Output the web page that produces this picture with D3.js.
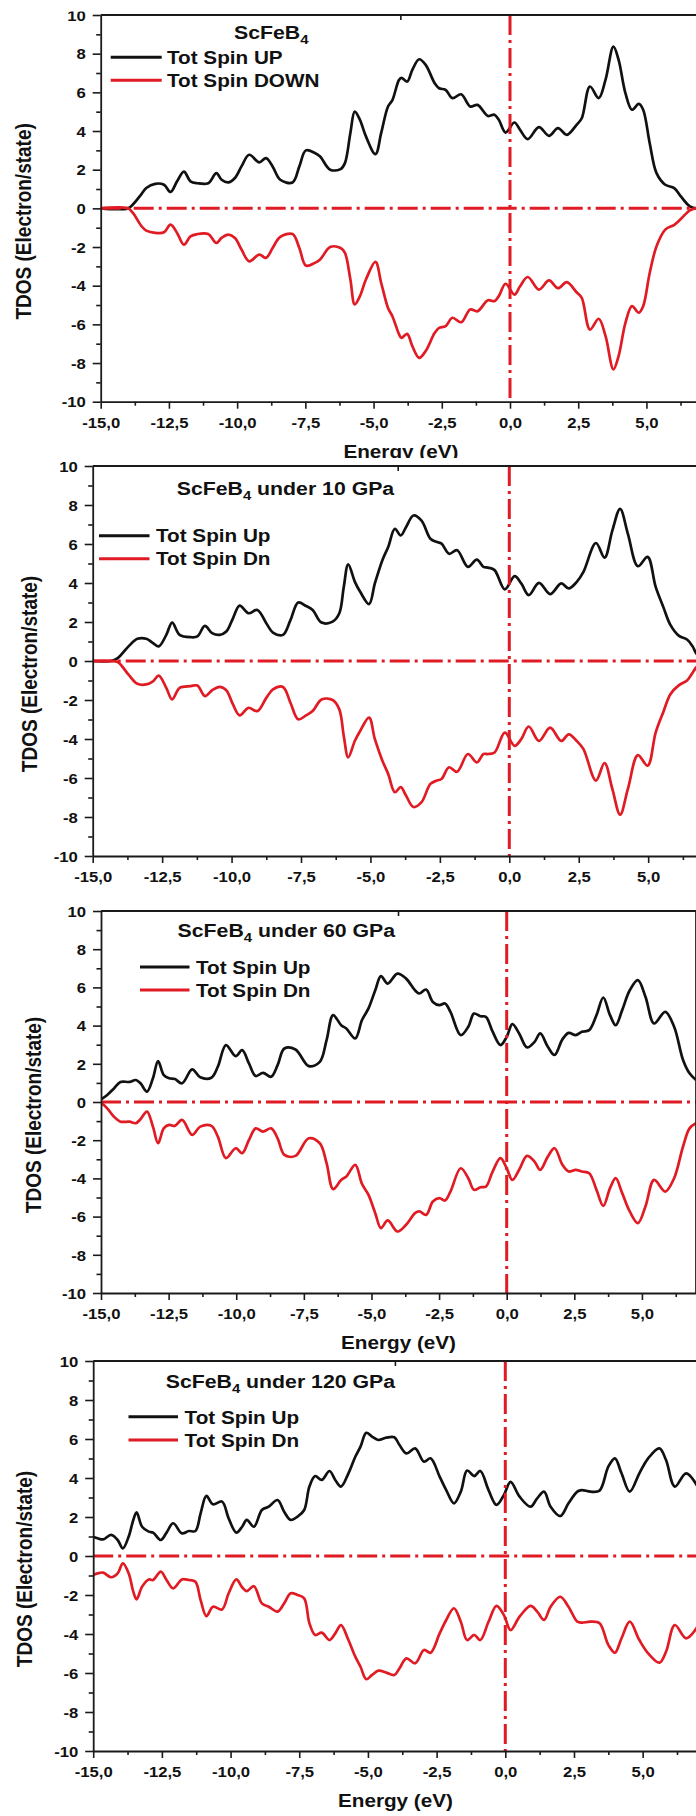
<!DOCTYPE html>
<html>
<head>
<meta charset="utf-8">
<script src="https://cdn.jsdelivr.net/npm/d3@7"></script>
<style>
  html, body { margin: 0; padding: 0; background: #fff; }
  svg { display: block; }
</style>
</head>
<body>
<svg id="chart" width="696" height="1816"></svg>
<script>
// ---- Total DOS of ScFeB4 at 0, 10, 60 and 120 GPa (energies in eV, DOS in electron/state) ----

// 0 GPa
const energy0 = [-15.0, -14.0, -13.82, -13.5, -13.33, -13.0, -12.68, -12.44, -12.2, -11.95, -11.71, -11.46, -11.06, -10.76, -10.57, -10.33, -10.08, -9.84, -9.56, -9.19, -8.94, -8.7, -8.42, -7.97, -7.72, -7.48, -7.15, -6.96, -6.59, -6.21, -6.05, -5.85, -5.69, -5.5, -5.28, -4.93, -4.72, -4.47, -4.31, -4.07, -3.98, -3.77, -3.58, -3.33, -3.09, -2.76, -2.6, -2.36, -2.11, -1.79, -1.46, -1.19, -0.81, -0.57, -0.41, -0.16, 0.16, 0.37, 0.65, 1.06, 1.43, 1.76, 2.08, 2.44, 2.63, 2.93, 3.25, 3.5, 3.79, 3.98, 4.23, 4.47, 4.72, 4.88, 5.12, 5.37, 5.69, 6.02, 6.26, 6.59, 6.8, 7.0];
const spinUp0 = [0, 0, 0.2, 0.75, 1.05, 1.27, 1.22, 0.85, 1.4, 1.9, 1.4, 1.3, 1.3, 1.82, 1.48, 1.34, 1.57, 2.17, 2.77, 2.38, 2.6, 2.17, 1.48, 1.34, 2.17, 3.0, 2.86, 2.68, 2.0, 2.03, 2.34, 3.9, 5.0, 4.58, 3.72, 2.8, 3.9, 5.27, 5.6, 6.64, 6.75, 6.56, 7.16, 7.71, 7.42, 6.47, 6.21, 6.13, 5.7, 5.9, 5.27, 5.35, 4.78, 4.84, 4.58, 3.92, 4.44, 4.06, 3.58, 4.2, 3.75, 4.15, 3.8, 4.32, 4.66, 6.3, 5.7, 6.64, 8.36, 7.68, 5.96, 5.1, 5.4, 5.1, 3.37, 1.82, 1.22, 1.05, 0.62, 0.1, 0, 0];
const spinDn0 = [0, 0, -0.24, -0.93, -1.15, -1.27, -1.24, -0.84, -1.27, -1.88, -1.45, -1.33, -1.33, -1.79, -1.53, -1.36, -1.53, -2.13, -2.74, -2.39, -2.56, -2.05, -1.48, -1.33, -2.05, -2.96, -2.82, -2.65, -2.0, -2.05, -2.3, -3.68, -4.97, -4.54, -3.68, -2.77, -3.86, -5.15, -5.58, -6.5, -6.7, -6.49, -7.13, -7.73, -7.38, -6.44, -6.18, -6.09, -5.66, -5.89, -5.23, -5.32, -4.75, -4.8, -4.54, -3.9, -4.46, -4.03, -3.55, -4.2, -3.73, -4.13, -3.82, -4.34, -4.63, -6.27, -5.71, -6.6, -8.33, -7.64, -5.92, -5.06, -5.4, -5.06, -3.34, -1.96, -1.1, -0.85, -0.55, -0.1, 0, 0];

// 10 GPa
const energy10 = [-15.0, -14.35, -14.1, -13.71, -13.39, -13.07, -12.83, -12.62, -12.35, -12.14, -11.87, -11.47, -11.23, -10.96, -10.7, -10.43, -10.19, -9.95, -9.71, -9.39, -9.07, -8.75, -8.51, -8.15, -7.88, -7.6, -7.32, -7.08, -6.76, -6.36, -6.12, -5.96, -5.8, -5.56, -5.37, -5.05, -4.84, -4.57, -4.36, -4.12, -3.91, -3.72, -3.45, -3.16, -2.84, -2.6, -2.44, -2.17, -1.88, -1.49, -1.17, -0.93, -0.77, -0.53, -0.16, 0.19, 0.43, 0.7, 1.07, 1.47, 1.87, 2.14, 2.43, 2.67, 3.12, 3.43, 3.71, 3.99, 4.27, 4.63, 4.98, 5.27, 5.55, 5.8, 6.1, 6.4, 6.6, 6.75, 7.0];
const spinUp10 = [0, 0, 0.15, 0.75, 1.14, 1.14, 0.92, 0.75, 1.34, 1.97, 1.34, 1.22, 1.26, 1.8, 1.43, 1.34, 1.51, 2.19, 2.84, 2.45, 2.62, 1.94, 1.46, 1.34, 2.1, 3.0, 2.82, 2.62, 1.97, 2.02, 2.45, 3.8, 4.96, 4.06, 3.55, 2.92, 3.98, 5.17, 5.85, 6.78, 6.44, 6.86, 7.46, 7.2, 6.27, 6.1, 6.02, 5.5, 5.68, 4.83, 5.2, 4.83, 4.79, 4.66, 3.67, 4.35, 3.98, 3.38, 4.01, 3.43, 3.98, 3.72, 4.06, 4.57, 6.05, 5.3, 6.69, 7.8, 6.52, 4.86, 5.34, 3.8, 2.75, 1.85, 1.3, 1.1, 0.75, 0.35, 0.1];
const spinDn10 = [0, 0, -0.05, -0.7, -1.17, -1.2, -1.04, -0.75, -1.38, -1.97, -1.38, -1.29, -1.26, -1.8, -1.5, -1.33, -1.5, -2.23, -2.79, -2.4, -2.57, -1.89, -1.46, -1.33, -2.14, -2.99, -2.79, -2.57, -1.97, -2.0, -2.48, -3.84, -4.94, -4.09, -3.59, -2.9, -4.01, -5.11, -5.79, -6.73, -6.47, -6.9, -7.49, -7.24, -6.3, -6.13, -6.05, -5.45, -5.68, -4.77, -5.2, -4.77, -4.77, -4.69, -3.67, -4.35, -4.01, -3.36, -4.1, -3.42, -4.1, -3.76, -4.1, -4.52, -6.13, -5.23, -6.56, -7.88, -6.56, -4.83, -5.37, -3.67, -2.6, -1.7, -1.25, -1.0, -0.6, -0.3, -0.1];

// 60 GPa
const energy60 = [-15.0, -14.77, -14.52, -14.28, -13.95, -13.71, -13.54, -13.3, -13.08, -12.89, -12.68, -12.48, -12.27, -12.0, -11.63, -11.33, -10.92, -10.68, -10.38, -10.02, -9.78, -9.53, -9.28, -9.01, -8.71, -8.47, -8.22, -7.81, -7.32, -6.91, -6.66, -6.42, -6.12, -5.93, -5.6, -5.35, -5.11, -4.86, -4.65, -4.4, -4.04, -3.72, -3.39, -3.23, -2.98, -2.73, -2.49, -2.28, -2.08, -1.7, -1.42, -1.21, -0.97, -0.77, -0.52, -0.23, 0, 0.21, 0.46, 0.75, 1.03, 1.24, 1.52, 1.77, 2.06, 2.29, 2.55, 2.78, 3.05, 3.32, 3.57, 3.82, 4.03, 4.27, 4.55, 4.85, 5.13, 5.45, 5.86, 6.19, 6.52, 6.76, 7.0];
const spinUp60 = [0.14, 0.37, 0.71, 1.05, 1.05, 1.15, 0.98, 0.54, 1.24, 2.14, 1.41, 1.24, 1.2, 0.98, 1.71, 1.29, 1.27, 1.85, 2.98, 2.4, 2.72, 2.02, 1.36, 1.53, 1.32, 1.93, 2.8, 2.75, 1.88, 2.1, 3.24, 4.55, 4.02, 3.85, 3.33, 4.29, 4.9, 5.85, 6.59, 6.2, 6.72, 6.46, 5.85, 5.68, 5.89, 5.24, 5.07, 5.16, 4.72, 3.5, 3.94, 4.63, 4.49, 4.46, 3.68, 2.98, 3.41, 4.08, 3.59, 2.86, 3.15, 3.59, 2.89, 2.46, 3.28, 3.62, 3.5, 3.68, 3.76, 4.55, 5.47, 4.55, 4.02, 4.81, 5.85, 6.38, 5.51, 4.11, 4.72, 3.94, 2.2, 1.5, 1.15];
const spinDn60 = [-0.03, -0.33, -0.77, -1.03, -1.03, -1.11, -0.9, -0.5, -1.29, -2.16, -1.38, -1.2, -1.25, -0.94, -1.72, -1.29, -1.25, -1.81, -2.94, -2.42, -2.68, -1.99, -1.38, -1.55, -1.38, -1.9, -2.77, -2.82, -1.9, -2.16, -3.2, -4.56, -4.08, -3.9, -3.29, -4.29, -4.86, -5.82, -6.6, -6.2, -6.78, -6.43, -5.82, -5.73, -5.91, -5.21, -5.03, -5.16, -4.69, -3.47, -3.99, -4.6, -4.46, -4.43, -3.64, -2.94, -3.47, -4.08, -3.55, -2.82, -3.12, -3.55, -2.86, -2.42, -3.29, -3.64, -3.55, -3.64, -3.73, -4.6, -5.44, -4.51, -3.99, -4.77, -5.73, -6.34, -5.47, -4.08, -4.69, -3.99, -2.33, -1.38, -1.11];

// 120 GPa
const energy120 = [-15.0, -14.84, -14.64, -14.35, -14.11, -13.92, -13.71, -13.54, -13.42, -13.22, -12.98, -12.82, -12.54, -12.33, -12.09, -11.77, -11.52, -11.28, -11.09, -10.88, -10.64, -10.31, -10.07, -9.79, -9.58, -9.41, -9.15, -8.86, -8.61, -8.29, -8.05, -7.81, -7.56, -7.32, -7.13, -6.92, -6.68, -6.4, -6.19, -5.98, -5.71, -5.46, -5.27, -5.06, -4.85, -4.62, -4.33, -4.04, -3.85, -3.6, -3.28, -2.96, -2.72, -2.39, -2.15, -1.87, -1.62, -1.39, -1.13, -0.91, -0.61, -0.32, -0.05, 0.19, 0.52, 0.92, 1.16, 1.41, 1.65, 2.0, 2.3, 2.62, 2.78, 3.1, 3.43, 3.75, 3.99, 4.23, 4.53, 4.88, 5.2, 5.61, 5.85, 6.17, 6.58, 7.0];
const spinUp120 = [0.99, 0.91, 0.85, 1.08, 0.82, 0.39, 0.99, 1.85, 2.24, 1.5, 1.25, 1.2, 0.82, 1.2, 1.68, 1.16, 1.28, 1.28, 2.19, 3.08, 2.65, 2.79, 1.93, 1.2, 1.5, 1.85, 1.5, 2.36, 2.53, 2.87, 2.27, 1.85, 2.02, 2.36, 3.56, 4.1, 3.9, 4.36, 3.9, 3.56, 4.24, 5.09, 5.61, 6.32, 6.12, 5.95, 6.07, 6.09, 5.69, 5.26, 5.52, 4.84, 5.01, 4.07, 3.38, 2.7, 3.3, 4.38, 4.1, 4.36, 3.38, 2.62, 3.13, 3.8, 3.04, 2.53, 2.96, 3.3, 2.53, 2.05, 2.7, 3.3, 3.38, 3.3, 3.35, 4.58, 5.01, 4.24, 3.3, 4.24, 5.01, 5.52, 4.92, 3.56, 4.24, 3.56];
const spinDn120 = [-0.97, -0.89, -0.85, -1.09, -0.89, -0.38, -0.89, -1.83, -2.22, -1.57, -1.2, -1.23, -0.8, -1.23, -1.66, -1.2, -1.23, -1.32, -2.26, -3.08, -2.6, -2.74, -1.91, -1.2, -1.6, -1.8, -1.55, -2.43, -2.6, -2.85, -2.43, -1.91, -2.0, -2.17, -3.45, -4.05, -3.93, -4.31, -3.97, -3.54, -4.31, -5.16, -5.68, -6.32, -6.1, -5.88, -5.98, -6.1, -5.76, -5.25, -5.5, -4.82, -4.96, -3.97, -3.28, -2.68, -3.37, -4.31, -4.05, -4.31, -3.37, -2.56, -3.03, -3.8, -3.11, -2.56, -2.85, -3.28, -2.6, -2.09, -2.6, -3.37, -3.42, -3.37, -3.45, -4.56, -4.96, -4.22, -3.37, -4.31, -4.99, -5.47, -4.91, -3.54, -4.22, -3.62];

// Axis ticks and labels
const energyDomain = [-15, 7];
const dosDomain = [-10, 10];
const xTicks = [-15, -12.5, -10, -7.5, -5, -2.5, 0, 2.5, 5];
const xMinorTicks = [-13.75, -11.25, -8.75, -6.25, -3.75, -1.25, 1.25, 3.75, 6.25];
const yTicks = [-10, -8, -6, -4, -2, 0, 2, 4, 6, 8, 10];
const yMinorTicks = [-9, -7, -5, -3, -1, 1, 3, 5, 7, 9];
const topFrameMarks = [-4];
const titleSuffix = ["", " under 10 GPa", " under 60 GPa", " under 120 GPa"];
const upLabels = ["Tot Spin UP", "Tot Spin Up", "Tot Spin Up", "Tot Spin Up"];
const downLabels = ["Tot Spin DOWN", "Tot Spin Dn", "Tot Spin Dn", "Tot Spin Dn"];
const xAxisTitle = "Energy (eV)";
const yAxisTitle = "TDOS (Electron/state)";

const series = [
  { e: energy0,   up: spinUp0,   dn: spinDn0 },
  { e: energy10,  up: spinUp10,  dn: spinDn10 },
  { e: energy60,  up: spinUp60,  dn: spinDn60 },
  { e: energy120, up: spinUp120, dn: spinDn120 }
];

// ---- Layout of the four stacked panels ----
const layout = [
  { left: 100.7, zero: 510.0, top: 15,  bottom: 401.7, bgTop: 0,
    titleX: 234, titleY: 38.5, legX1: 110.7, legX2: 161.7, legUpY: 57.3, legDnY: 80.2,
    legTextX: 167, legTextY1: 63.6, legTextY2: 86.6, yTitleX: 23 },
  { left: 92.7, zero: 509.3, top: 466, bottom: 856, bgTop: 458,
    titleX: 176.7, titleY: 494.5, legX1: 99, legX2: 149.5, legUpY: 535.7, legDnY: 558.8,
    legTextX: 156, legTextY1: 542, legTextY2: 565, yTitleX: 29 },
  { left: 101, zero: 506.7, top: 911, bottom: 1293, bgTop: 893,
    titleX: 177.6, titleY: 937, legX1: 140, legX2: 189.5, legUpY: 967, legDnY: 990,
    legTextX: 196, legTextY1: 973.5, legTextY2: 996.5, yTitleX: 33 },
  { left: 93.2, zero: 505.3, top: 1361, bottom: 1751, bgTop: 1354,
    titleX: 165.7, titleY: 1388.3, legX1: 128.5, legX2: 178, legUpY: 1416.7, legDnY: 1440,
    legTextX: 184.6, legTextY1: 1423.5, legTextY2: 1446.5, yTitleX: 24 }
];

const FONT = "'Liberation Sans', Arial, Helvetica, sans-serif";
const SX = 1.15;            // horizontal stretch of the lettering
const RED = "#e01b24";
const BLACK = "#111";
const AXIS = "#1a1a1a";

const svg = d3.select("#chart");
const fmtX = d => d.toFixed(1).replace(".", ",");
const fmtY = d => String(d);

// text placed through a group so it can be stretched horizontally
function label(parent, x, y, str, size, anchor, rotate) {
  const g = parent.append("g")
    .attr("transform", `translate(${x},${y}) scale(${SX},1)` + (rotate ? ` rotate(${rotate})` : ""));
  return g.append("text")
    .attr("x", 0).attr("y", 0)
    .attr("font-family", FONT).attr("font-weight", "bold")
    .attr("font-size", size).attr("fill", "#111")
    .attr("text-anchor", anchor || "start")
    .text(str);
}

series.forEach((s, i) => {
  const L = layout[i];
  const unit = (L.zero - L.left) / 15;
  const x = d3.scaleLinear().domain(energyDomain).range([L.left, L.zero + unit * energyDomain[1]]);
  const y = d3.scaleLinear().domain(dosDomain).range([L.bottom, L.top]);
  const g = svg.append("g").attr("class", "panel");

  g.append("rect").attr("x", 0).attr("y", L.bgTop).attr("width", 696).attr("height", 1816 - L.bgTop).attr("fill", "#fff");

  const clipId = "clip" + i;
  g.append("clipPath").attr("id", clipId).append("rect")
    .attr("x", x(energyDomain[0])).attr("y", L.top - 2)
    .attr("width", x(energyDomain[1]) - x(energyDomain[0])).attr("height", L.bottom - L.top + 4);

  const plot = g.append("g").attr("clip-path", `url(#${clipId})`);
  const line = d3.line().x(d => x(d[0])).y(d => y(d[1])).curve(d3.curveCatmullRom.alpha(0.5));
  const upPts = s.e.map((e, k) => [e, s.up[k]]);
  const dnPts = s.e.map((e, k) => [e, s.dn[k]]);

  plot.append("path").attr("d", line(upPts)).attr("fill", "none")
    .attr("stroke", BLACK).attr("stroke-width", 2.7).attr("stroke-linejoin", "round");
  plot.append("path").attr("d", line(dnPts)).attr("fill", "none")
    .attr("stroke", RED).attr("stroke-width", 2.7).attr("stroke-linejoin", "round");

  // Fermi level and zero line
  plot.append("line")
    .attr("x1", x(energyDomain[0])).attr("x2", x(energyDomain[1]))
    .attr("y1", y(0)).attr("y2", y(0))
    .attr("stroke", RED).attr("stroke-width", 3).attr("stroke-dasharray", "20,5,3,5");
  plot.append("line")
    .attr("x1", x(0)).attr("x2", x(0))
    .attr("y1", y(dosDomain[1])).attr("y2", y(dosDomain[0]))
    .attr("stroke", RED).attr("stroke-width", 3).attr("stroke-dasharray", "20,5,3,5");

  // frame: top and right
  g.append("line").attr("x1", x(energyDomain[0])).attr("x2", x(energyDomain[1]))
    .attr("y1", y(dosDomain[1])).attr("y2", y(dosDomain[1]))
    .attr("stroke", AXIS).attr("stroke-width", 1.8);
  g.append("line").attr("x1", x(energyDomain[1])).attr("x2", x(energyDomain[1]))
    .attr("y1", y(dosDomain[1])).attr("y2", y(dosDomain[0]))
    .attr("stroke", AXIS).attr("stroke-width", 1.8);
  g.selectAll(".topmark").data(topFrameMarks).enter().append("line")
    .attr("x1", d => x(d)).attr("x2", d => x(d))
    .attr("y1", y(dosDomain[1])).attr("y2", y(dosDomain[1]) + 5)
    .attr("stroke", AXIS).attr("stroke-width", 1.6);

  // bottom axis
  const xAx = g.append("g").attr("transform", `translate(0,${L.bottom})`)
    .call(d3.axisBottom(x).tickValues(xTicks).tickFormat(fmtX).tickSize(7).tickSizeOuter(0));
  g.append("g").attr("transform", `translate(0,${L.bottom})`)
    .call(d3.axisBottom(x).tickValues(xMinorTicks).tickFormat(() => "").tickSize(4).tickSizeOuter(0))
    .call(a => a.select(".domain").remove());

  // left axis
  const yAx = g.append("g").attr("transform", `translate(${L.left},0)`)
    .call(d3.axisLeft(y).tickValues(yTicks).tickFormat(fmtY).tickSize(8).tickSizeOuter(0));
  g.append("g").attr("transform", `translate(${L.left},0)`)
    .call(d3.axisLeft(y).tickValues(yMinorTicks).tickFormat(() => "").tickSize(4.5).tickSizeOuter(0))
    .call(a => a.select(".domain").remove());

  g.selectAll(".domain").attr("stroke", AXIS).attr("stroke-width", 1.8);
  g.selectAll(".tick line").attr("stroke", AXIS).attr("stroke-width", 1.6);

  xAx.selectAll("text")
    .attr("font-family", FONT).attr("font-weight", "bold").attr("font-size", 14.5).attr("fill", "#111")
    .attr("y", 16).attr("transform", `scale(${SX},1)`);
  yAx.selectAll("text")
    .attr("font-family", FONT).attr("font-weight", "bold").attr("font-size", 14.5).attr("fill", "#111")
    .attr("x", -15 / SX).attr("dy", "0.36em").attr("transform", `scale(${SX},1)`);

  // axis titles
  label(g, (x(energyDomain[0]) + x(energyDomain[1])) / 2, L.bottom + 56, xAxisTitle, 18, "middle");
  label(g, L.yTitleX, (L.top + L.bottom) / 2 + 13, yAxisTitle, 19, "middle", -90)
    .attr("dominant-baseline", "central");

  // panel title with subscript
  const t = label(g, L.titleX, L.titleY, "ScFeB", 18.5, "start");
  t.append("tspan").attr("font-size", 13).attr("dy", 5).text("4");
  if (titleSuffix[i]) t.append("tspan").attr("dy", -5).text(titleSuffix[i]);

  // legend
  g.append("line").attr("x1", L.legX1).attr("x2", L.legX2).attr("y1", L.legUpY).attr("y2", L.legUpY)
    .attr("stroke", BLACK).attr("stroke-width", 3);
  g.append("line").attr("x1", L.legX1).attr("x2", L.legX2).attr("y1", L.legDnY).attr("y2", L.legDnY)
    .attr("stroke", RED).attr("stroke-width", 3);
  label(g, L.legTextX, L.legTextY1, upLabels[i], 18, "start");
  label(g, L.legTextX, L.legTextY2, downLabels[i], 18, "start");
});

// the top of the sheet is trimmed just above the first panel
svg.append("rect").attr("x", 0).attr("y", 0).attr("width", 696).attr("height", 11.5).attr("fill", "#fff");
</script>
</body>
</html>
